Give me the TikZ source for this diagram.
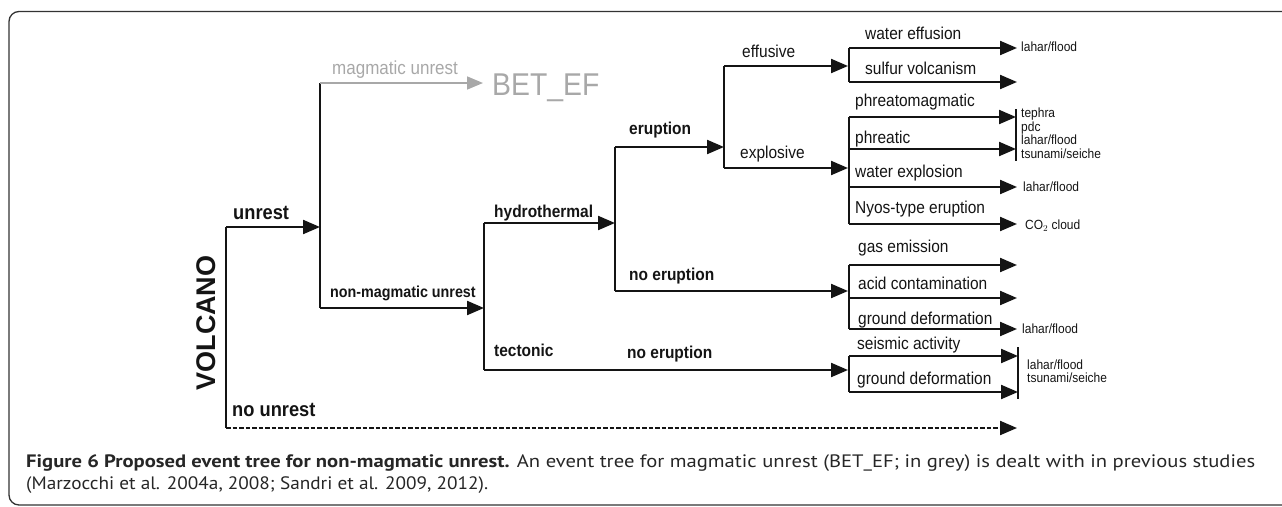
\documentclass[tikz,border=0pt]{standalone}
\usepackage{fontspec}
\usepackage{graphicx}
\setmainfont{Liberation Sans}[FakeStretch=0.9]
\newfontfamily\plainfont{Liberation Sans}
\newfontfamily\capfont{PT Sans}
\usetikzlibrary{arrows.meta}
\definecolor{ink}{gray}{0.08}
\definecolor{greyc}{gray}{0.66}
\definecolor{framec}{gray}{0.2}
\definecolor{captc}{gray}{0.15}
\tikzset{
  conn/.style={line width=2.2pt, draw=ink},
  arr/.style={conn, -{Triangle[length=17pt,width=14pt]}},
  dashconn/.style={conn, dash pattern=on 4.5pt off 2pt, -{Triangle[length=17pt,width=14pt]}},
  garr/.style={line width=1.7pt, draw=greyc, -{Triangle[length=16pt,width=13pt]}},
  bar/.style={line width=2.2pt, draw=ink},
  lab/.style={anchor=base west, inner sep=0pt, text=ink},
  labb/.style={lab, font=\fontsize{17.2}{20}\selectfont\bfseries},
  labB/.style={lab, font=\fontsize{20.3}{23}\selectfont\bfseries},
  labr/.style={lab, font=\fontsize{17.2}{20}\selectfont},
  labs/.style={lab, font=\fontsize{13.3}{15}\selectfont},
  gtxt/.style={anchor=base west, inner sep=0pt, text=greyc},
}
\begin{document}
\begin{tikzpicture}[x=1pt,y=-1pt]
\useasboundingbox (0,0) rectangle (1282,506);
% frame
\draw[framec, line width=1.3pt, rounded corners=10pt] (1295,11.5) -- (9,11.5) -- (9,505) -- (1295,505);

% ---------- level 0 : VOLCANO ----------
\node[anchor=base, inner sep=0pt, rotate=90, text=ink, font=\plainfont\fontsize{27}{30}\selectfont\bfseries] (volcano) at (215,323) {VOLCANO};
\coordinate (V) at (226,227);
\coordinate (Vb) at (226,428);
\coordinate (U) at (320,227);
\coordinate (NUend) at (1017,428);
\draw[conn] (V) -- (Vb);
\draw[arr] (V) -- (U);
\draw[dashconn] (Vb) -- (NUend);
\node[labB] (lunrest) at (233,219.5) {unrest};
\node[labB] (lnounrest) at (232,416) {no unrest};

% ---------- level 1 : magmatic / non-magmatic ----------
\coordinate (Mt) at (320,83);
\coordinate (Mb) at (320,308);
\coordinate (Gend) at (483,83);
\coordinate (H) at (484,308);
\draw[conn] (Mt) -- (Mb);
\draw[garr] (Mt) -- (Gend);
\draw[arr] (Mb) -- (H);
\node[gtxt, font=\fontsize{18.9}{22}\selectfont] (lmag) at (332,74) {magmatic unrest};
\node[gtxt, font=\fontsize{31.5}{35}\selectfont] (bet) at (492,95.7) {BET\_EF};
\node[lab, font=\fontsize{15.9}{18}\selectfont\bfseries] (lnonmag) at (330,297.7) {non-magmatic unrest};

% ---------- level 2 : hydrothermal / tectonic ----------
\coordinate (Ht) at (484,223);
\coordinate (Hb) at (484,370);
\coordinate (E) at (615,223);
\coordinate (Tin) at (848,370);
\draw[conn] (Ht) -- (Hb);
\draw[arr] (Ht) -- (E);
\draw[arr] (Hb) -- (Tin);
\node[labb] (lhydro) at (494,217) {hydrothermal};
\node[labb] (ltect) at (494,356) {tectonic};
\node[labb] (lnoer2) at (627,358) {no eruption};

% ---------- level 3 : eruption / no eruption ----------
\coordinate (Et) at (615,147);
\coordinate (Eb) at (615,291);
\coordinate (X) at (724,147);
\coordinate (NEin) at (848,291);
\draw[conn] (Et) -- (Eb);
\draw[arr] (Et) -- (X);
\draw[arr] (Eb) -- (NEin);
\node[labb] (lerup) at (629,134.5) {eruption};
\node[labb] (lnoer1) at (629,280) {no eruption};

% ---------- level 4 : effusive / explosive ----------
\coordinate (Xt) at (724,66);
\coordinate (Xb) at (724,168);
\coordinate (EFin) at (848,66);
\coordinate (EXin) at (848,168);
\draw[conn] (Xt) -- (Xb);
\draw[arr] (Xt) -- (EFin);
\draw[arr] (Xb) -- (EXin);
\node[labr] (leff) at (742,57) {effusive};
\node[labr] (lexp) at (740,158) {explosive};

% ---------- outcomes: effusive ----------
\coordinate (a1) at (849,48);  \coordinate (a1e) at (1017,48);
\coordinate (a2) at (849,82);  \coordinate (a2e) at (1017,82);
\draw[conn] (a1) -- (a2);
\draw[arr] (a1) -- (a1e);
\draw[arr] (a2) -- (a2e);
\node[labr] (lwe) at (865,39) {water effusion};
\node[labr] (lsv) at (865,74) {sulfur volcanism};
\node[labs] (ha1) at (1021,51.5) {lahar/flood};

% ---------- outcomes: explosive ----------
\coordinate (b1) at (849,117); \coordinate (b1e) at (1016,117);
\coordinate (b2) at (849,149); \coordinate (b2e) at (1016,149);
\coordinate (b3) at (849,187); \coordinate (b3e) at (1017,187);
\coordinate (b4) at (849,224); \coordinate (b4e) at (1017,224);
\coordinate (bbt) at (1016,109); \coordinate (bbb) at (1016,161);
\draw[conn] (b1) -- (b4);
\draw[arr] (b1) -- (b1e);
\draw[arr] (b2) -- (b2e);
\draw[arr] (b3) -- (b3e);
\draw[arr] (b4) -- (b4e);
\draw[bar] (bbt) -- (bbb);
\node[labr] (lpm) at (855,106) {phreatomagmatic};
\node[labr] (lph) at (855,143) {phreatic};
\node[labr] (lwx) at (855,177) {water explosion};
\node[labr] (lny) at (855,213) {Nyos-type eruption};
\node[labs] (hb1) at (1021,117.5) {tephra};
\node[labs] (hb2) at (1021,131) {pdc};
\node[labs] (hb3) at (1021,144.5) {lahar/flood};
\node[labs] (hb4) at (1021,158) {tsunami/seiche};
\node[labs] (hb5) at (1023,191) {lahar/flood};
\node[labs] (hb6) at (1025,229) {CO$_2$ cloud};

% ---------- outcomes: hydrothermal no eruption ----------
\coordinate (c1) at (849,265); \coordinate (c1e) at (1017,265);
\coordinate (c2) at (849,298); \coordinate (c2e) at (1017,298);
\coordinate (c3) at (849,329); \coordinate (c3e) at (1017,329);
\draw[conn] (c1) -- (c3);
\draw[arr] (c1) -- (c1e);
\draw[arr] (c2) -- (c2e);
\draw[arr] (c3) -- (c3e);
\node[labr] (lge) at (858,252) {gas emission};
\node[labr] (lac) at (858,289) {acid contamination};
\node[labr] (lgd1) at (858,324) {ground deformation};
\node[labs] (hc1) at (1022,333) {lahar/flood};

% ---------- outcomes: tectonic ----------
\coordinate (d1) at (849,356); \coordinate (d1e) at (1018,356);
\coordinate (d2) at (849,392); \coordinate (d2e) at (1018,392);
\coordinate (dbt) at (1018,347); \coordinate (dbb) at (1018,399);
\draw[conn] (d1) -- (d2);
\draw[arr] (d1) -- (d1e);
\draw[arr] (d2) -- (d2e);
\draw[bar] (dbt) -- (dbb);
\node[labr] (lsa) at (857,349) {seismic activity};
\node[labr] (lgd2) at (857,384) {ground deformation};
\node[labs] (hd1) at (1027,369) {lahar/flood};
\node[labs] (hd2) at (1027,382.5) {tsunami/seiche};

% ---------- caption ----------
\node[anchor=base west, inner sep=0pt, text=captc] (cap1) at (26,467)
  {\resizebox{1229pt}{\height}{\capfont\fontsize{18}{21}\selectfont\textbf{Figure 6 Proposed event tree for non-magmatic unrest.} An event tree for magmatic unrest (BET\_EF; in grey) is dealt with in previous studies}};
\node[anchor=base west, inner sep=0pt, text=captc] (cap2) at (26,489)
  {\resizebox{462pt}{\height}{\capfont\fontsize{18}{21}\selectfont(Marzocchi et al. 2004a, 2008; Sandri et al. 2009, 2012).}};
\end{tikzpicture}
\end{document}
